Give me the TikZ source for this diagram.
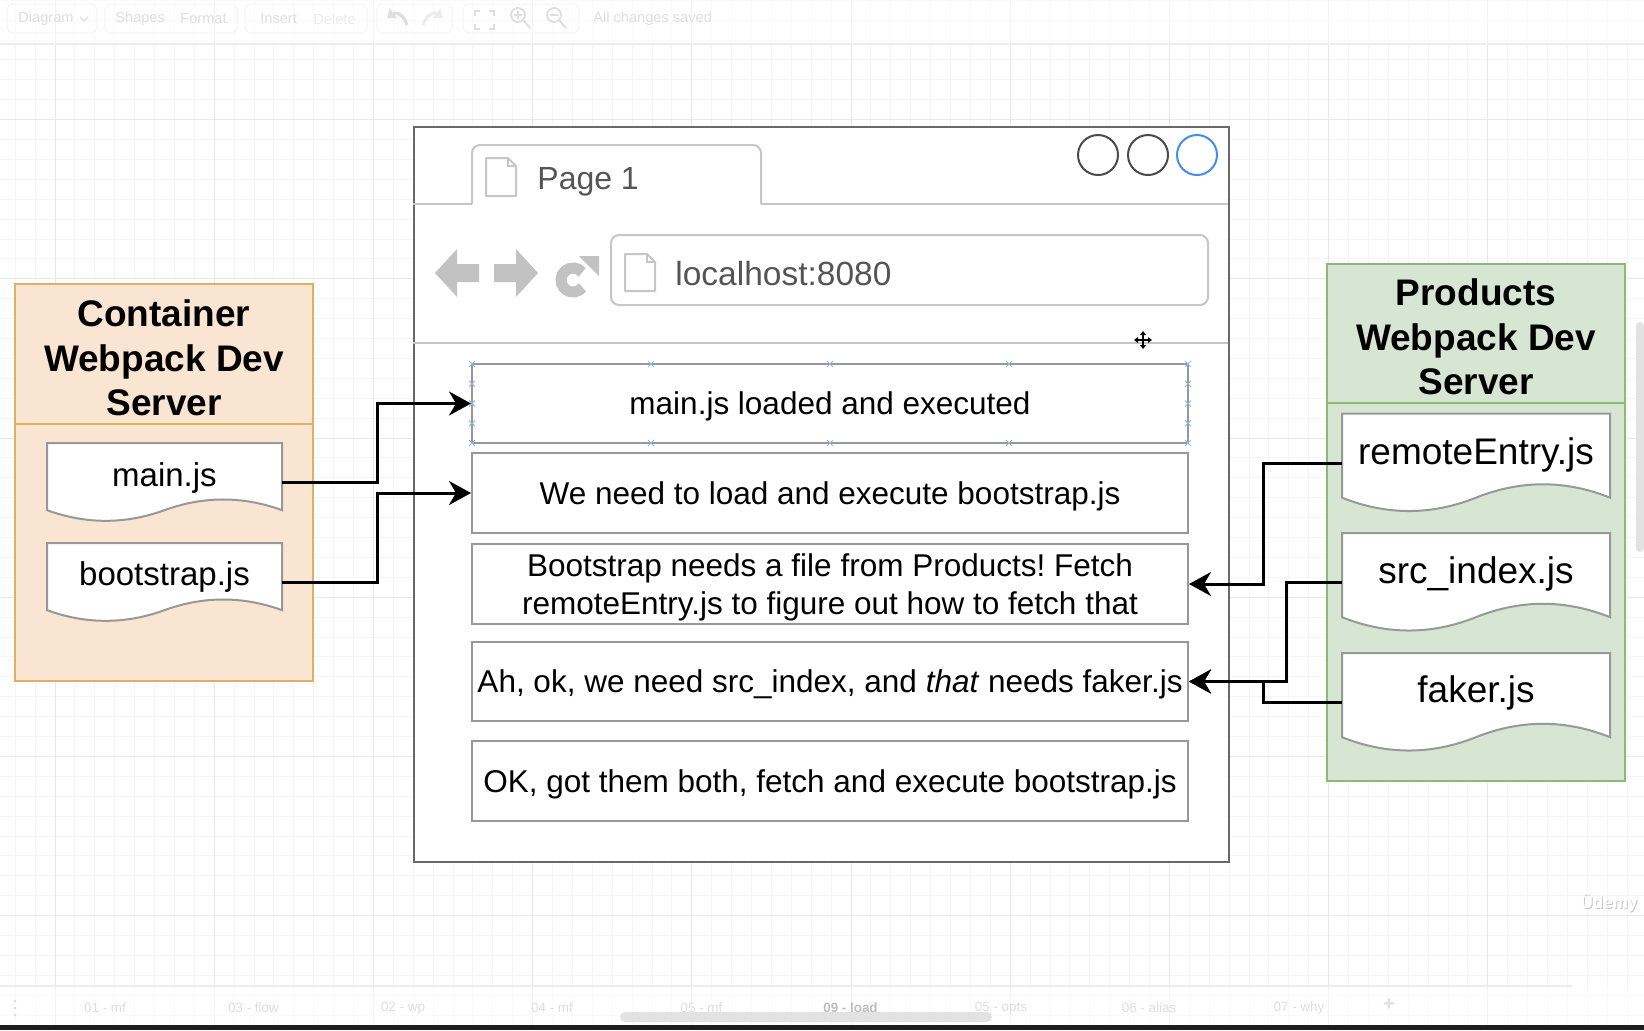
\documentclass[tikz,border=0pt]{standalone}
\usepackage{fontspec}
\setmainfont{Liberation Sans}
\usetikzlibrary{arrows.meta,fit,calc}

\definecolor{gridminor}{RGB}{245,245,245}
\definecolor{gridmajor}{RGB}{232,232,232}
\definecolor{uitext}{RGB}{222,222,222}
\definecolor{uifaint}{RGB}{236,236,236}
\definecolor{uibox}{RGB}{246,246,246}
\definecolor{scrollgray}{RGB}{226,226,226}
\definecolor{darkstrip}{RGB}{30,30,30}
\definecolor{browserline}{RGB}{105,105,105}
\definecolor{boxgray}{RGB}{152,152,152}
\definecolor{tabline}{RGB}{198,198,198}
\definecolor{navgray}{RGB}{194,194,194}
\definecolor{chrometext}{RGB}{85,85,85}
\definecolor{btndark}{RGB}{75,75,75}
\definecolor{btnblue}{RGB}{66,142,232}
\definecolor{peach}{RGB}{249,229,209}
\definecolor{peachline}{RGB}{221,176,98}
\definecolor{sage}{RGB}{214,230,210}
\definecolor{sageline}{RGB}{140,185,115}
\definecolor{handleblue}{RGB}{140,182,222}

% document shape with a wavy lower edge; also defines a named node over its bounds
\newcommand{\wavedoc}[5]{%
  \pgfmathsetmacro\wdw{#4-#2}%
  \pgfmathsetmacro\wdd{0.3*#5}%
  \pgfmathsetmacro\wdm{#3+#5-0.5*\wdd}%
  \pgfmathsetmacro\wdu{\wdm-0.6*\wdd}%
  \pgfmathsetmacro\wdl{\wdm+0.6*\wdd}%
  \draw[docline] (#2,#3) -- (#4,#3) -- (#4,\wdm)
    .. controls ({#2+5*\wdw/6},\wdu) and ({#2+2*\wdw/3},\wdu) .. ({#2+\wdw/2},\wdm)
    .. controls ({#2+\wdw/3},\wdl) and ({#2+\wdw/6},\wdl) .. (#2,\wdm) -- cycle;
  \node[fit={(#2,#3) (#4,{#3+#5})}, inner sep=0pt] (#1) {};
}

% small page icon with a folded corner
\newcommand{\pageicon}[4]{%
  \draw[tabline, line width=1pt, line join=round] (#1,#2) -- ({#3-8},#2) -- (#3,{#2+8}) -- (#3,#4) -- (#1,#4) -- cycle;
  \draw[tabline, line width=0.8pt] ({#3-8},#2) -- ({#3-8},{#2+8}) -- (#3,{#2+8});
}

\begin{document}
\frenchspacing
\begin{tikzpicture}[x=0.5pt,y=-0.5pt,
  flowbox/.style={draw=boxgray, line width=1pt, fill=white, minimum width=358pt, inner sep=0pt},
  steptext/.style={inner sep=0pt, align=center, yshift=-1.5pt, font=\fontsize{15.75}{19}\selectfont},
  docline/.style={draw=boxgray, line width=1pt, fill=white},
  doclabel/.style={inner sep=0pt, font=\fontsize{18.5}{22}\selectfont},
  doclabelsm/.style={inner sep=0pt, font=\fontsize{16.5}{20}\selectfont},
  header/.style={inner sep=0pt, align=center, font=\bfseries\fontsize{18.5}{22.3}\selectfont},
  conn/.style={line width=1.5pt, -{Stealth[length=11pt,width=12pt,inset=3.5pt]}},
  uilabel/.style={inner sep=0pt, anchor=west, text=uitext, font=\fontsize{7.3}{9}\selectfont},
  tablabel/.style={inner sep=0pt, text=uitext, font=\fontsize{6.7}{8}\selectfont},
  winbtn/.style={line width=1pt},
]
\useasboundingbox (0,0) rectangle (1644,1030);
\fill[white] (0,0) rectangle (1644,1030);

% ---------- canvas grid ----------
\begin{scope}
  \clip (0,0) rectangle (1644,1025);
  \foreach \k in {-3,...,80}
    \draw[gridminor, line width=0.5pt] ({55+19.9*\k},0) -- ({55+19.9*\k},1025);
  \foreach \k in {0,...,52}
    \draw[gridminor, line width=0.5pt] (0,{0.2+19.9*\k}) -- (1644,{0.2+19.9*\k});
  \foreach \k in {0,...,10}
    \draw[gridmajor, line width=0.5pt] ({55+159.2*\k},0) -- ({55+159.2*\k},1025);
  \foreach \k in {0,...,6}
    \draw[gridmajor, line width=0.5pt] (0,{-39.6+159.2*\k}) -- (1644,{-39.6+159.2*\k});
\end{scope}

% ---------- editor toolbar ----------
\fill[white, opacity=0.55] (0,0) rectangle (1644,44);
\draw[uifaint, line width=1pt] (0,44) -- (1644,44);
\foreach \a/\b in {7/97, 105/237, 245/367, 377/452, 463/579}
  \draw[uibox, line width=0.6pt, rounded corners=3pt] (\a,4) rectangle (\b,33);
\node[uilabel] (tbdiagram) at (18,19) {Diagram};
\draw[uitext, line width=0.6pt] (80,17) -- (84,21) -- (88,17);
\node[uilabel] (tbshapes) at (115,19) {Shapes};
\node[uilabel] (tbformat) at (180,19) {Format};
\node[uilabel] (tbinsert) at (260,19) {Insert};
\node[uilabel, text=uifaint] (tbdelete) at (313,19) {Delete};
\draw[uitext, line width=1.6pt, -{Triangle[length=4pt,width=6pt]}] (407,25) .. controls (404,14) and (395,12) .. (387,18);
\draw[uifaint, line width=1.6pt, -{Triangle[length=4pt,width=6pt]}] (423,25) .. controls (426,14) and (435,12) .. (443,18);
\draw[uitext, line width=1pt] (475,16) -- (475,11) -- (480,11) (489,11) -- (494,11) -- (494,16)
  (494,24) -- (494,29) -- (489,29) (480,29) -- (475,29) -- (475,24);
\draw[uitext, line width=0.9pt] (518,15) circle[radius=7] (523,20) -- (530,28) (514,15) -- (522,15) (518,11) -- (518,19);
\draw[uitext, line width=0.9pt] (554,15) circle[radius=7] (559,20) -- (566,28) (550,15) -- (558,15);
\node[uilabel] (tbsaved) at (593,19) {All changes saved};

% ---------- container dev server ----------
\draw[fill=peach, draw=peachline, line width=1pt] (15,284) rectangle (313,681);
\draw[peachline, line width=1pt] (15,424) -- (313,424);
\node[header] (ctitle) at (164,358) {Container\\Webpack Dev\\Server};
\wavedoc{mainjs}{47}{443}{282}{79}
\node[doclabelsm] (mainjslbl) at (164.5,477.5) {main.js};
\wavedoc{bootjs}{47}{543}{282}{79}
\node[doclabelsm] (bootjslbl) at (164.5,576.5) {bootstrap.js};

% ---------- products dev server ----------
\draw[fill=sage, draw=sageline, line width=1pt] (1327,264) rectangle (1625,781);
\draw[sageline, line width=1pt] (1327,403) -- (1625,403);
\node[header] (ptitle) at (1476,337) {Products\\Webpack Dev\\Server};
\wavedoc{remote}{1342}{413.5}{1610}{99}
\node[doclabel] (remotelbl) at (1476,454.5) {remoteEntry.js};
\wavedoc{srcidx}{1342}{533}{1610}{99}
\node[doclabel] (srcidxlbl) at (1476,574) {src\_index.js};
\wavedoc{faker}{1342}{653}{1610}{99}
\node[doclabel] (fakerlbl) at (1476,693) {faker.js};

% ---------- browser window ----------
\node[draw=browserline, fill=white, line width=1pt, minimum width=407.5pt, minimum height=367.5pt,
  inner sep=0pt, anchor=north west] (browser) at (413,126) {};
\draw[tabline, line width=1pt, rounded corners=4pt] (472,204) -- (472,145) -- (761,145) -- (761,204);
\draw[tabline, line width=1pt] (413,204) -- (472,204) (761,204) -- (1228,204);
\pageicon{486}{158}{516}{196}
\node[inner sep=0pt, anchor=west, text=chrometext, font=\fontsize{16}{19}\selectfont] (tabtitle) at (537,182) {Page 1};
\draw[winbtn, btndark] (1098,155) circle[radius=20];
\draw[winbtn, btndark] (1148,155) circle[radius=20];
\draw[winbtn, btnblue] (1197,155) circle[radius=20];
% back, forward, reload
\fill[navgray] (435,273) -- (457,249) -- (457,264) -- (479,264) -- (479,282) -- (457,282) -- (457,297) -- cycle;
\fill[navgray] (538,273) -- (516,249) -- (516,264) -- (494,264) -- (494,282) -- (516,282) -- (516,297) -- cycle;
\draw[navgray, line width=5.5pt] (573,280) ++(-40:12) arc[start angle=-40, end angle=-322, radius=12];
\fill[navgray] (579,256) -- (599,256) -- (599,276) -- cycle;
% address bar
\draw[tabline, line width=1pt, rounded corners=4pt] (611,235) rectangle (1208,305);
\pageicon{625}{254}{655}{291}
\node[inner sep=0pt, anchor=west, text=chrometext, font=\fontsize{16.75}{20}\selectfont] (address) at (675,274) {localhost:8080};
\draw[tabline, line width=1pt] (413,343) -- (1228,343);
% move pointer
\draw[line width=1.3pt] (1136,340) -- (1150,340) (1143,333) -- (1143,347);
\fill (1134,340) -- (1138,337) -- (1138,343) -- cycle
      (1152,340) -- (1148,337) -- (1148,343) -- cycle
      (1143,331) -- (1140,335) -- (1146,335) -- cycle
      (1143,349) -- (1140,345) -- (1146,345) -- cycle;

% ---------- page steps ----------
\node[flowbox, minimum height=39.5pt] (b1) at (830,403.5) {};
\node[flowbox, minimum height=40pt] (b2) at (830,493) {};
\node[flowbox, minimum height=40pt] (b3) at (830,584) {};
\node[flowbox, minimum height=39.5pt] (b4) at (830,681.5) {};
\node[flowbox, minimum height=40pt] (b5) at (830,781) {};
\node[steptext] (b1t) at (b1.center) {main.js loaded and executed};
\node[steptext] (b2t) at (b2.center) {We need to load and execute bootstrap.js};
\node[steptext] (b3t) at (b3.center) {Bootstrap needs a file from Products! Fetch\\remoteEntry.js to figure out how to fetch that};
\node[steptext] (b4t) at (b4.center) {Ah, ok, we need src\_index, and \textit{that} needs faker.js};
\node[steptext] (b5t) at (b5.center) {OK, got them both, fetch and execute bootstrap.js};
% selection handles on the first step
\foreach \hx in {472,651,830,1009,1188}
  \foreach \hy in {364,443}
    \draw[handleblue, line width=0.5pt] (\hx-3,\hy-3) -- (\hx+3,\hy+3) (\hx-3,\hy+3) -- (\hx+3,\hy-3);
\foreach \hy in {383.75,403.5,423.25}
  \foreach \hx in {472,1188}
    \draw[handleblue, line width=0.5pt] (\hx-3,\hy-3) -- (\hx+3,\hy+3) (\hx-3,\hy+3) -- (\hx+3,\hy-3);

% ---------- connectors ----------
\draw[conn] (mainjs.east) -- ++(95,0) |- (b1.west);
\draw[conn] (bootjs.east) -- ++(95,0) |- (b2.west);
\draw[conn] (remote.west) -- ++(-78,0) |- (b3.east);
\draw[conn] (srcidx.west) -- ++(-55,0) |- (b4.east);
\draw[conn] (faker.west) -- ++(-78,0) |- (b4.east);

% ---------- page tabs and scrollbars ----------
\fill[white, opacity=0.55] (0,988) rectangle (1644,1025);
\draw[uifaint, line width=0.8pt] (0,986) -- (1572,986);
\fill[uitext] (15,1001) circle[radius=1.5] (15,1008) circle[radius=1.5] (15,1015) circle[radius=1.5];
\node[tablabel] (t1) at (105,1008) {01 - mf};
\node[tablabel] (t2) at (253.5,1008) {03 - flow};
\node[tablabel] (t3) at (403,1008) {02 - wp};
\node[tablabel] (t4) at (552,1008) {04 - mf};
\node[tablabel] (t5) at (701.5,1008) {05 - mf};
\node[tablabel, text=uitext!85!black, font=\bfseries\fontsize{6.7}{8}\selectfont] (t6) at (850.5,1008) {09 - load};
\node[tablabel] (t7) at (1001,1008) {05 - opts};
\node[tablabel] (t8) at (1149,1008) {06 - alias};
\node[tablabel] (t9) at (1299,1008) {07 - why};
\node[tablabel, font=\bfseries\fontsize{10}{12}\selectfont] (tplus) at (1389,1005) {+};
\fill[scrollgray, rounded corners=2.5pt] (620,1012) rectangle (992,1022);
\fill[scrollgray, rounded corners=2pt] (1636,322) rectangle (1644,552);
\fill[darkstrip] (0,1025) rectangle (1644,1030);

% watermark
\node[inner sep=0pt, text=black!22, font=\bfseries\fontsize{8.5}{10}\selectfont] (wmshadow) at (1610,904) {Ûdemy};
\node[inner sep=0pt, text=white, font=\bfseries\fontsize{8.5}{10}\selectfont] (wm) at (1609,903) {Ûdemy};
\end{tikzpicture}
\end{document}
